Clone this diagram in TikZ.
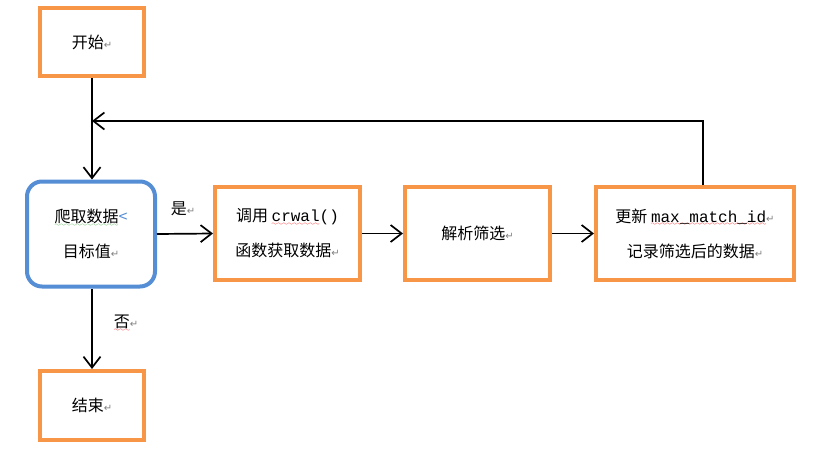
\documentclass[tikz,border=0pt]{standalone}
\usepackage{fontspec}
\setmainfont{Noto Sans CJK SC}
\setmonofont{Liberation Mono}
\newfontfamily\markfont{DejaVu Sans}
\usetikzlibrary{arrows.meta}
\definecolor{boxorange}{RGB}{247,150,70}
\definecolor{boxblue}{RGB}{85,142,213}
\definecolor{markgray}{RGB}{128,128,128}
\definecolor{spellgreen}{RGB}{60,170,60}
\font\wavefont=lasy6
\newcommand{\wavy}[2]{\setbox0\hbox{#2}\rlap{\textcolor{#1}{\lower3.5pt\hbox to\wd0{\xleaders\hbox{\wavefont\char58}\hfill}}}\box0}
\newcommand{\pmark}{{\markfont\fontsize{10}{10}\selectfont\textcolor{markgray}{↵}}}
\begin{document}
\begin{tikzpicture}[x=1pt,y=-1pt,
	font=\fontsize{16}{35}\selectfont,
	stepbox/.style={draw=boxorange, line width=4pt, fill=white, align=center, inner sep=0pt},
	choice/.style={draw=boxblue, line width=4pt, rounded corners=15pt, fill=white, align=center, inner sep=0pt},
	flow/.style={line width=1.7pt, -{Straight Barb[length=11pt,width=17pt,line width=1.7pt]}}]
	\useasboundingbox (0,0) rectangle (814,455);
	
	\node[stepbox, minimum width=104pt, minimum height=68pt] (start) at (92,42) {开始\pmark};
	\node[choice, minimum width=128pt, minimum height=105pt] (fetch) at (91,234) {\wavy{spellgreen}{爬取数据}\textcolor{boxblue}{<}\\目标值\pmark};
	\node[stepbox, minimum width=145pt, minimum height=93pt] (call) at (287.5,233.5) {调用 \wavy{red}{\texttt{crwal}}\texttt{()}\\函数获取数据\pmark};
	\node[stepbox, minimum width=145pt, minimum height=93pt] (parse) at (477.5,233.5) {解析筛选\pmark};
	\node[stepbox, minimum width=198pt, minimum height=93pt] (update) at (695,233.5) {更新 \wavy{red}{\texttt{max\_match\_id}}\pmark\\记录筛选后的数据\pmark};
	\node[stepbox, minimum width=104pt, minimum height=69pt] (finish) at (92,405.5) {结束\pmark};
	
	\node (yes) at (183,209) {是\pmark};
	\node (no) at (126,323) {\wavy{red}{否}\pmark};
	
	\coordinate (turn) at (703,121);
	
	\draw[flow] (start.south) -- (start.south |- fetch.north);
	\draw[flow] (fetch.east) -- (call.west);
	\draw[flow] (call.east) -- (parse.west);
	\draw[flow] (parse.east) -- (update.west);
	\draw[flow] (fetch.south -| start.south) -- (finish.north);
	\draw[flow, line width=1.4pt] (update.north -| turn) -- (turn) -- (turn -| start.south);
\end{tikzpicture}
\end{document}
